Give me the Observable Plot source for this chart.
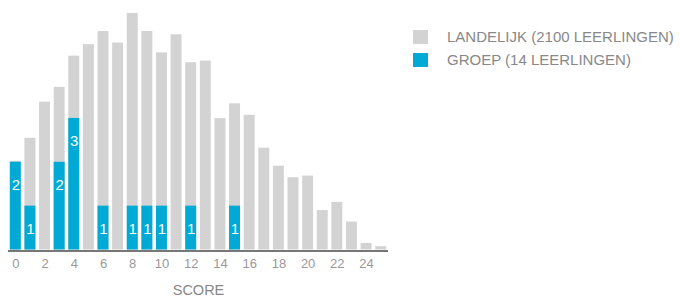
<!DOCTYPE html>
<html>
<head>
<meta charset="utf-8">
<script src="https://cdn.jsdelivr.net/npm/d3@7"></script>
<script src="https://cdn.jsdelivr.net/npm/@observablehq/plot@0.6"></script>
<style>
  body { margin: 0; background: #fff; font-family: "Liberation Sans", Arial, sans-serif; }
  #wrap { position: relative; width: 680px; height: 300px; }
  #legend { position: absolute; left: 413px; top: 25px; font-size: 15px; color: #888; }
  .row { display: flex; align-items: center; height: 23px; }
  .sw { width: 15px; height: 14px; margin-right: 19px; }
</style>
</head>
<body>
<div id="wrap">
  <div id="chart"></div>
  <div id="legend"></div>
</div>
<script>
const scores = d3.range(0, 26);
const landelijk = [54, 68, 90, 99, 118, 125, 133, 126, 144, 133, 120, 131, 114, 115, 80, 89, 82, 62, 51, 44, 45, 24, 29, 17, 4, 2];
const groep = [2, 1, 0, 2, 3, 0, 1, 0, 1, 1, 1, 0, 1, 0, 0, 1, 0, 0, 0, 0, 0, 0, 0, 0, 0, 0];
const tickValues = [0, 2, 4, 6, 8, 10, 12, 14, 16, 18, 20, 22, 24];
const seriesNames = ["LANDELIJK (2100 LEERLINGEN)", "GROEP (14 LEERLINGEN)"];
const seriesColors = ["#d3d3d3", "#00aad4"];
const groepFactor = 26.7; // display scale of one group pupil in national-count units

const data = scores.map((s, i) => ({score: s, landelijk: landelijk[i], groep: groep[i], groepY: groep[i] * groepFactor}));

const chart = Plot.plot({
  width: 400,
  height: 300,
  marginLeft: 8,
  marginRight: 12,
  marginTop: 3.1,
  marginBottom: 50.5,
  style: {fontFamily: "'Liberation Sans', Arial, sans-serif", background: "transparent"},
  x: {type: "band", domain: scores, paddingInner: 0.25, paddingOuter: 0.125, round: false, axis: null},
  y: {domain: [0, 150], axis: null},
  marks: [
    Plot.barY(data, {x: "score", y: "landelijk", fill: seriesColors[0]}),
    Plot.barY(data.filter(d => d.groep > 0), {x: "score", y: "groepY", fill: seriesColors[1]}),
    Plot.text(data.filter(d => d.groep > 0), {x: "score", y: "groepY", text: d => String(d.groep), dy: 23, fill: "white", fontSize: 15}),
    Plot.ruleY([0], {stroke: "#777", strokeWidth: 2, dy: 1}),
    Plot.axisX({ticks: tickValues, tickSize: 0, tickPadding: 9, fontSize: 13, color: "#999", label: "SCORE", labelAnchor: "center", labelOffset: 45})
  ]
});
document.getElementById("chart").appendChild(chart);

// style axis label
chart.querySelectorAll("text").forEach(t => {
  if (t.textContent === "SCORE") { t.setAttribute("font-size", "14.5"); t.setAttribute("fill", "#888"); }
});

const legend = document.getElementById("legend");
seriesNames.forEach((name, i) => {
  const row = document.createElement("div");
  row.className = "row";
  const sw = document.createElement("div");
  sw.className = "sw";
  sw.style.background = seriesColors[i];
  const lab = document.createElement("span");
  lab.textContent = name;
  row.appendChild(sw);
  row.appendChild(lab);
  legend.appendChild(row);
});
</script>
</body>
</html>
